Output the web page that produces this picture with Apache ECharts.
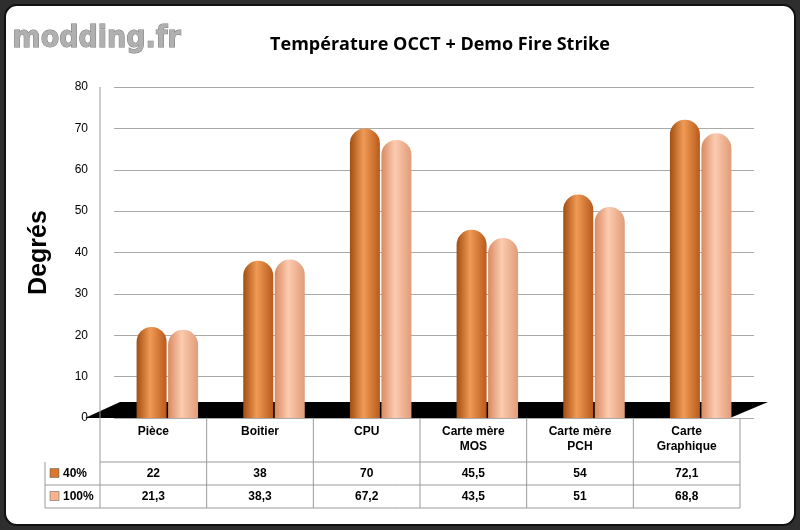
<!DOCTYPE html>
<html><head><meta charset="utf-8">
<script src="https://cdn.jsdelivr.net/npm/echarts@6/dist/echarts.min.js"></script>
<style>body{margin:0;background:#2e2e2e}#c{width:800px;height:530px}</style></head>
<body><div id="c"></div>
<script>
const categories = ['Pièce','Boitier','CPU','Carte mère\nMOS','Carte mère\nPCH','Carte\nGraphique'];
const seriesNames = ['40%','100%'];
const s40 = [22,38,70,45.5,54,72.1];
const s100 = [21.3,38.3,67.2,43.5,51,68.8];
const labels40 = ['22','38','70','45,5','54','72,1'];
const labels100 = ['21,3','38,3','67,2','43,5','51','68,8'];

const G = {left:114, right:46, top:87, bottom:112};
const W = 800, H = 530;
const tx0 = 100, tx1 = 740, gy1 = H - G.bottom;
const colW = (tx1 - tx0) / categories.length;
const rowTops = [gy1, gy1 + 44, gy1 + 67, gy1 + 90];
const colors = ['#D9772F', '#F7B48E'];

function grad(c1, c2, c3) {
  return {type:'linear', x:0, y:0, x2:1, y2:0, colorStops:[
    {offset:0, color:c1},{offset:0.45, color:c2},{offset:1, color:c3}]};
}

const g = [
  {type:'rect', z:-10, shape:{x:5,y:5,width:790,height:520,r:12}, style:{fill:'#fff', stroke:'#111', lineWidth:2}},
  {type:'text', left:12, top:24, style:{text:'modding.fr', font:'bold 30px "DejaVu Sans Condensed"', fill:'#b0b0b0', stroke:'#777', lineWidth:1}},
  {type:'line', shape:{x1:tx0,y1:87,x2:tx0,y2:gy1}, style:{stroke:'#999', lineWidth:1}},
  {type:'polygon', z:-1, shape:{points:[[tx0-15,gy1],[tx1-10,gy1],[tx1+28,gy1-16],[tx0+20,gy1-16]]}, style:{fill:'#000'}},
];
const tl = {stroke:'#999', lineWidth:1};
rowTops.forEach((y,i)=>{ if(i>0) g.push({type:'line', shape:{x1: i===1?tx0:45, y1:y, x2:tx1, y2:y}, style:tl}); });
g.push({type:'line', shape:{x1:45,y1:rowTops[1],x2:45,y2:rowTops[3]}, style:tl});
for (let i=0;i<=categories.length;i++){
  const x = tx0 + i*colW;
  g.push({type:'line', shape:{x1:x,y1:rowTops[0],x2:x,y2:rowTops[3]}, style:tl});
}
categories.forEach((c,i)=>{
  const cx = tx0 + (i+0.5)*colW;
  g.push({type:'text', x:cx, y:rowTops[0]+6, style:{text:c, font:'bold 12px "Liberation Sans"', fill:'#000', align:'center', verticalAlign:'top', lineHeight:15}});
  g.push({type:'text', x:cx, y:(rowTops[1]+rowTops[2])/2, style:{text:labels40[i], font:'bold 12px "Liberation Sans"', fill:'#000', align:'center', verticalAlign:'middle'}});
  g.push({type:'text', x:cx, y:(rowTops[2]+rowTops[3])/2, style:{text:labels100[i], font:'bold 12px "Liberation Sans"', fill:'#000', align:'center', verticalAlign:'middle'}});
});
seriesNames.forEach((n,i)=>{
  const y = (rowTops[i+1]+rowTops[i+2])/2;
  g.push({type:'rect', shape:{x:50,y:y-5,width:9,height:9}, style:{fill:colors[i], stroke:'#555', lineWidth:0.5}});
  g.push({type:'text', x:63, y:y, style:{text:n, font:'bold 12px "Liberation Sans"', fill:'#000', verticalAlign:'middle'}});
});

const chart = echarts.init(document.getElementById('c'));
chart.setOption({
  backgroundColor:'#2e2e2e',
  animation:false,
  title:{text:'Température OCCT + Demo Fire Strike', left:435, top:31, textAlign:'center',
    textStyle:{fontFamily:'"Open Sans"', fontSize:18, fontWeight:'bold', color:'#000'}},
  grid:G,
  xAxis:{type:'category', data:categories, axisLabel:{show:false}, axisTick:{show:false}, axisLine:{show:false}},
  yAxis:{type:'value', min:0, max:80, interval:10, name:'Degrés', nameLocation:'middle', nameGap:62,
    nameTextStyle:{fontFamily:'"Liberation Sans"', fontSize:25, fontWeight:'bold', color:'#000'},
    axisLabel:{color:'#000', fontSize:12, fontFamily:'"Liberation Sans"', margin:26},
    axisLine:{show:false},
    splitLine:{lineStyle:{color:'#aaa'}}},
  series:[
    {name:seriesNames[0], type:'bar', data:s40, barWidth:30, barGap:'5%',
      itemStyle:{color:grad('#A24E12','#F09A55','#B85A1C'), borderRadius:[15,15,0,0]}},
    {name:seriesNames[1], type:'bar', data:s100, barWidth:30,
      itemStyle:{color:grad('#D98A62','#FCCBB0','#E09C78'), borderRadius:[15,15,0,0]}}
  ],
  graphic:g
});
</script></body></html>
